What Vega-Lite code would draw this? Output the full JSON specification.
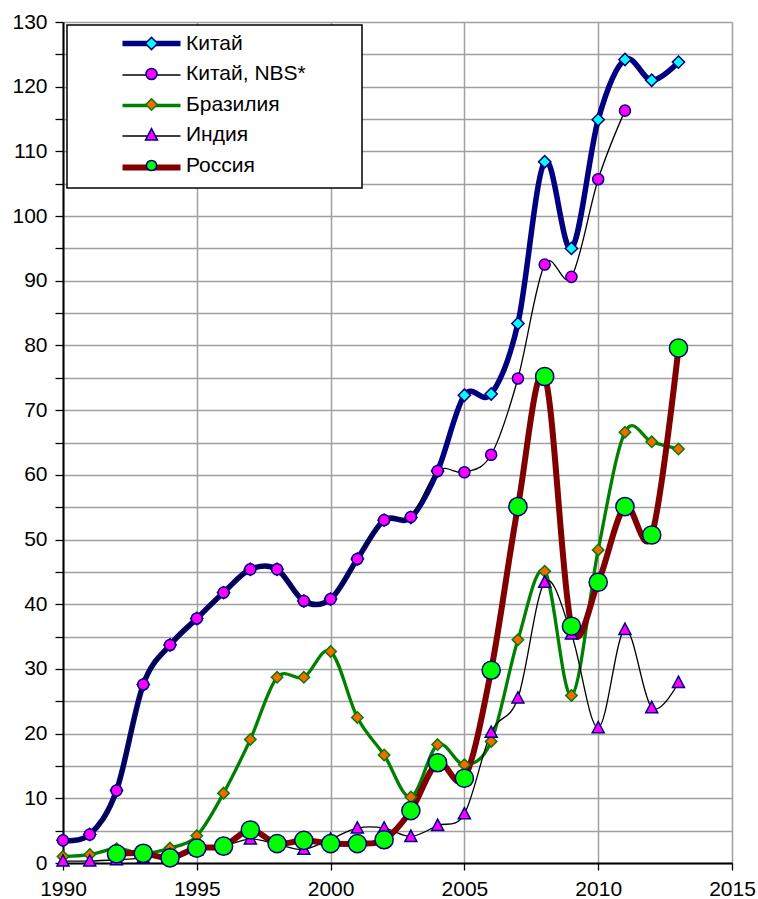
{
  "$schema": "https://vega.github.io/schema/vega-lite/v6.json",
  "width": 669,
  "height": 841,
  "autosize": {"type": "none"},
  "padding": {"left": 63, "top": 22, "right": 26, "bottom": 36},
  "background": "white",
  "config": {"view": {"stroke": null}, "font": "Liberation Sans"},
  "data": {"values": [
    {"series": "Китай", "year": 1990, "value": 3.5},
    {"series": "Китай", "year": 1991, "value": 4.4},
    {"series": "Китай", "year": 1992, "value": 11.2},
    {"series": "Китай", "year": 1993, "value": 27.6},
    {"series": "Китай", "year": 1994, "value": 33.7},
    {"series": "Китай", "year": 1995, "value": 37.8},
    {"series": "Китай", "year": 1996, "value": 41.8},
    {"series": "Китай", "year": 1997, "value": 45.4},
    {"series": "Китай", "year": 1998, "value": 45.4},
    {"series": "Китай", "year": 1999, "value": 40.5},
    {"series": "Китай", "year": 2000, "value": 40.8},
    {"series": "Китай", "year": 2001, "value": 47.0},
    {"series": "Китай", "year": 2002, "value": 53.0},
    {"series": "Китай", "year": 2003, "value": 53.4},
    {"series": "Китай", "year": 2004, "value": 60.6},
    {"series": "Китай", "year": 2005, "value": 72.3},
    {"series": "Китай", "year": 2006, "value": 72.5},
    {"series": "Китай", "year": 2007, "value": 83.4},
    {"series": "Китай", "year": 2008, "value": 108.4},
    {"series": "Китай", "year": 2009, "value": 95.0},
    {"series": "Китай", "year": 2010, "value": 114.9},
    {"series": "Китай", "year": 2011, "value": 124.2},
    {"series": "Китай", "year": 2012, "value": 121.0},
    {"series": "Китай", "year": 2013, "value": 123.8},
    {"series": "Китай, NBS*", "year": 1990, "value": 3.5},
    {"series": "Китай, NBS*", "year": 1991, "value": 4.4},
    {"series": "Китай, NBS*", "year": 1992, "value": 11.2},
    {"series": "Китай, NBS*", "year": 1993, "value": 27.6},
    {"series": "Китай, NBS*", "year": 1994, "value": 33.7},
    {"series": "Китай, NBS*", "year": 1995, "value": 37.8},
    {"series": "Китай, NBS*", "year": 1996, "value": 41.8},
    {"series": "Китай, NBS*", "year": 1997, "value": 45.4},
    {"series": "Китай, NBS*", "year": 1998, "value": 45.4},
    {"series": "Китай, NBS*", "year": 1999, "value": 40.5},
    {"series": "Китай, NBS*", "year": 2000, "value": 40.8},
    {"series": "Китай, NBS*", "year": 2001, "value": 47.0},
    {"series": "Китай, NBS*", "year": 2002, "value": 53.0},
    {"series": "Китай, NBS*", "year": 2003, "value": 53.5},
    {"series": "Китай, NBS*", "year": 2004, "value": 60.6},
    {"series": "Китай, NBS*", "year": 2005, "value": 60.4},
    {"series": "Китай, NBS*", "year": 2006, "value": 63.1},
    {"series": "Китай, NBS*", "year": 2007, "value": 74.9},
    {"series": "Китай, NBS*", "year": 2008, "value": 92.5},
    {"series": "Китай, NBS*", "year": 2009, "value": 90.6},
    {"series": "Китай, NBS*", "year": 2010, "value": 105.7},
    {"series": "Китай, NBS*", "year": 2011, "value": 116.3},
    {"series": "Бразилия", "year": 1990, "value": 1.0},
    {"series": "Бразилия", "year": 1991, "value": 1.3},
    {"series": "Бразилия", "year": 1992, "value": 2.2},
    {"series": "Бразилия", "year": 1993, "value": 1.5},
    {"series": "Бразилия", "year": 1994, "value": 2.3},
    {"series": "Бразилия", "year": 1995, "value": 4.2},
    {"series": "Бразилия", "year": 1996, "value": 10.8},
    {"series": "Бразилия", "year": 1997, "value": 19.1},
    {"series": "Бразилия", "year": 1998, "value": 28.7},
    {"series": "Бразилия", "year": 1999, "value": 28.7},
    {"series": "Бразилия", "year": 2000, "value": 32.7},
    {"series": "Бразилия", "year": 2001, "value": 22.5},
    {"series": "Бразилия", "year": 2002, "value": 16.7},
    {"series": "Бразилия", "year": 2003, "value": 10.2},
    {"series": "Бразилия", "year": 2004, "value": 18.3},
    {"series": "Бразилия", "year": 2005, "value": 15.2},
    {"series": "Бразилия", "year": 2006, "value": 18.8},
    {"series": "Бразилия", "year": 2007, "value": 34.5},
    {"series": "Бразилия", "year": 2008, "value": 45.1},
    {"series": "Бразилия", "year": 2009, "value": 25.9},
    {"series": "Бразилия", "year": 2010, "value": 48.4},
    {"series": "Бразилия", "year": 2011, "value": 66.6},
    {"series": "Бразилия", "year": 2012, "value": 65.1},
    {"series": "Бразилия", "year": 2013, "value": 64.0},
    {"series": "Индия", "year": 1990, "value": 0.3},
    {"series": "Индия", "year": 1991, "value": 0.3},
    {"series": "Индия", "year": 1992, "value": 0.5},
    {"series": "Индия", "year": 1993, "value": 0.8},
    {"series": "Индия", "year": 1994, "value": 1.3},
    {"series": "Индия", "year": 1995, "value": 2.0},
    {"series": "Индия", "year": 1996, "value": 2.6},
    {"series": "Индия", "year": 1997, "value": 3.7},
    {"series": "Индия", "year": 1998, "value": 2.9},
    {"series": "Индия", "year": 1999, "value": 2.1},
    {"series": "Индия", "year": 2000, "value": 3.7},
    {"series": "Индия", "year": 2001, "value": 5.4},
    {"series": "Индия", "year": 2002, "value": 5.4},
    {"series": "Индия", "year": 2003, "value": 4.1},
    {"series": "Индия", "year": 2004, "value": 5.8},
    {"series": "Индия", "year": 2005, "value": 7.6},
    {"series": "Индия", "year": 2006, "value": 20.2},
    {"series": "Индия", "year": 2007, "value": 25.5},
    {"series": "Индия", "year": 2008, "value": 43.4},
    {"series": "Индия", "year": 2009, "value": 35.4},
    {"series": "Индия", "year": 2010, "value": 20.9},
    {"series": "Индия", "year": 2011, "value": 36.1},
    {"series": "Индия", "year": 2012, "value": 24.0},
    {"series": "Индия", "year": 2013, "value": 27.9},
    {"series": "Россия", "year": 1992, "value": 1.4},
    {"series": "Россия", "year": 1993, "value": 1.5},
    {"series": "Россия", "year": 1994, "value": 0.8},
    {"series": "Россия", "year": 1995, "value": 2.3},
    {"series": "Россия", "year": 1996, "value": 2.6},
    {"series": "Россия", "year": 1997, "value": 5.1},
    {"series": "Россия", "year": 1998, "value": 3.0},
    {"series": "Россия", "year": 1999, "value": 3.5},
    {"series": "Россия", "year": 2000, "value": 3.0},
    {"series": "Россия", "year": 2001, "value": 3.0},
    {"series": "Россия", "year": 2002, "value": 3.6},
    {"series": "Россия", "year": 2003, "value": 8.1},
    {"series": "Россия", "year": 2004, "value": 15.5},
    {"series": "Россия", "year": 2005, "value": 13.1},
    {"series": "Россия", "year": 2006, "value": 29.8},
    {"series": "Россия", "year": 2007, "value": 55.1},
    {"series": "Россия", "year": 2008, "value": 75.2},
    {"series": "Россия", "year": 2009, "value": 36.6},
    {"series": "Россия", "year": 2010, "value": 43.4},
    {"series": "Россия", "year": 2011, "value": 55.1},
    {"series": "Россия", "year": 2012, "value": 50.7},
    {"series": "Россия", "year": 2013, "value": 79.6}
  ]},
  "encoding": {
    "x": {
      "field": "year", "type": "quantitative",
      "scale": {"domain": [1990, 2015], "nice": false, "zero": false},
      "axis": {
        "values": [1990, 1995, 2000, 2005, 2010, 2015], "format": "d", "title": null,
        "grid": true, "gridColor": "#a0a0a0", "gridWidth": 1.5,
        "domainColor": "black", "domainWidth": 2,
        "tickColor": "black", "tickWidth": 1.3, "tickSize": 7,
        "labelFont": "Liberation Sans", "labelFontSize": 21, "labelColor": "black",
        "labelPadding": 8, "labelOverlap": false, "labelFlush": false, "labelBound": false
      }
    },
    "y": {
      "field": "value", "type": "quantitative",
      "scale": {"domain": [0, 130], "nice": false},
      "axis": {
        "values": [0, 5, 10, 15, 20, 25, 30, 35, 40, 45, 50, 55, 60, 65, 70, 75, 80, 85, 90, 95, 100, 105, 110, 115, 120, 125, 130],
        "labelExpr": "datum.value % 10 == 0 ? datum.label : ''",
        "title": null,
        "grid": true, "gridColor": "#a0a0a0", "gridWidth": 1.5,
        "domainColor": "black", "domainWidth": 2,
        "tickColor": "black", "tickWidth": 1.3, "tickSize": 8,
        "labelFont": "Liberation Sans", "labelFontSize": 21, "labelColor": "black",
        "labelPadding": 8, "labelOverlap": false, "labelBound": false,
        "encode": {"ticks": {"update": {"x2": {"signal": "datum.value % 10 == 0 ? -8 : -5.5"}}}}
      }
    }
  },
  "layer": [
    {
      "mark": {"type": "line", "interpolate": "cardinal"},
      "encoding": {
        "stroke": {
          "field": "series", "type": "nominal",
          "scale": {
            "domain": ["Китай", "Китай, NBS*", "Бразилия", "Индия", "Россия"],
            "range": ["#000080", "#000000", "#008000", "#000000", "#800000"]
          },
          "legend": {
            "orient": "none", "legendX": 4, "legendY": 3, "title": null,
            "symbolType": "stroke", "symbolSize": 3364,
            "symbolOffset": 66, "labelOffset": 186,
            "labelFont": "Liberation Sans", "labelFontSize": 21, "labelOpacity": 0,
            "labelLimit": 400,
            "labelExpr": "'.'",
            "rowPadding": 8.5, "padding": 8,
            "strokeColor": "black", "fillColor": "white",
            "zindex": 1,
            "encode": {
              "legend": {"update": {"strokeWidth": {"value": 1.5}}},
              "symbols": {"update": {"strokeWidth": {"signal": "(datum.value || datum) == 'Россия' ? 6 : (datum.value || datum) == 'Китай' ? 5.5 : (datum.value || datum) == 'Бразилия' ? 3.3 : 1.3"}}}
            }
          }
        },
        "strokeWidth": {
          "condition": [
            {"test": "datum.series == 'Россия'", "value": 6},
            {"test": "datum.series == 'Китай'", "value": 5.5},
            {"test": "datum.series == 'Бразилия'", "value": 3.3}
          ],
          "value": 1.3
        }
      }
    },
    {
      "mark": {"type": "point", "filled": true, "size": 144, "strokeWidth": 1.5, "opacity": 1},
      "encoding": {
        "shape": {
          "field": "series", "type": "nominal",
          "scale": {
            "domain": ["Китай", "Китай, NBS*", "Бразилия", "Индия", "Россия"],
            "range": [
              "M0,-1.02L1.02,0L0,1.02L-1.02,0Z",
              "M0.92,0C0.92,0.508,0.508,0.92,0,0.92C-0.508,0.92,-0.92,0.508,-0.92,0C-0.92,-0.508,-0.508,-0.92,0,-0.92C0.508,-0.92,0.92,-0.508,0.92,0Z",
              "M0,-0.95L0.95,0L0,0.95L-0.95,0Z",
              "M0,-1.05L1,0.82L-1,0.82Z",
              "M0.85,0C0.85,0.469,0.469,0.85,0,0.85C-0.469,0.85,-0.85,0.469,-0.85,0C-0.85,-0.469,-0.469,-0.85,0,-0.85C0.469,-0.85,0.85,-0.469,0.85,0Z"
            ]
          },
          "legend": {
            "orient": "none", "legendX": 4, "legendY": 3, "title": null,
            "symbolSize": 144, "symbolStrokeWidth": 1.5, "symbolOpacity": 1,
            "symbolOffset": 66, "labelOffset": 24,
            "labelFont": "Liberation Sans", "labelFontSize": 21, "labelColor": "black",
            "labelLimit": 400,
            "rowPadding": 8.5, "padding": 8, "zindex": 2
          }
        },
        "fill": {
          "field": "series", "type": "nominal",
          "scale": {
            "domain": ["Китай", "Китай, NBS*", "Бразилия", "Индия", "Россия"],
            "range": ["#00ffff", "#ff00ff", "#ff6600", "#ff00ff", "#00ff00"]
          },
          "legend": {
            "orient": "none", "legendX": 4, "legendY": 3, "title": null,
            "symbolSize": 144, "symbolStrokeWidth": 1.5, "symbolOpacity": 1,
            "symbolOffset": 66, "labelOffset": 24,
            "labelFont": "Liberation Sans", "labelFontSize": 21, "labelColor": "black",
            "labelLimit": 400,
            "rowPadding": 8.5, "padding": 8, "zindex": 2
          }
        },
        "stroke": {
          "field": "series", "type": "nominal",
          "scale": {
            "domain": ["Китай", "Китай, NBS*", "Бразилия", "Индия", "Россия"],
            "range": ["#000080", "#000080", "#008000", "#000080", "#000080"]
          },
          "legend": {
            "orient": "none", "legendX": 4, "legendY": 3, "title": null,
            "symbolSize": 144, "symbolStrokeWidth": 1.5, "symbolOpacity": 1,
            "symbolOffset": 66, "labelOffset": 24,
            "labelFont": "Liberation Sans", "labelFontSize": 21, "labelColor": "black",
            "labelLimit": 400,
            "rowPadding": 8.5, "padding": 8, "zindex": 2
          }
        }
      }
    },
    {
      "transform": [{"filter": "datum.series == 'Россия'"}],
      "mark": {"type": "point", "shape": "circle", "filled": true, "size": 330, "fill": "#00ff00", "stroke": "#000080", "strokeWidth": 1.5, "opacity": 1}
    }
  ],
  "resolve": {
    "scale": {"stroke": "independent", "fill": "independent", "shape": "independent"},
    "legend": {"stroke": "independent", "fill": "independent", "shape": "independent"}
  }
}
